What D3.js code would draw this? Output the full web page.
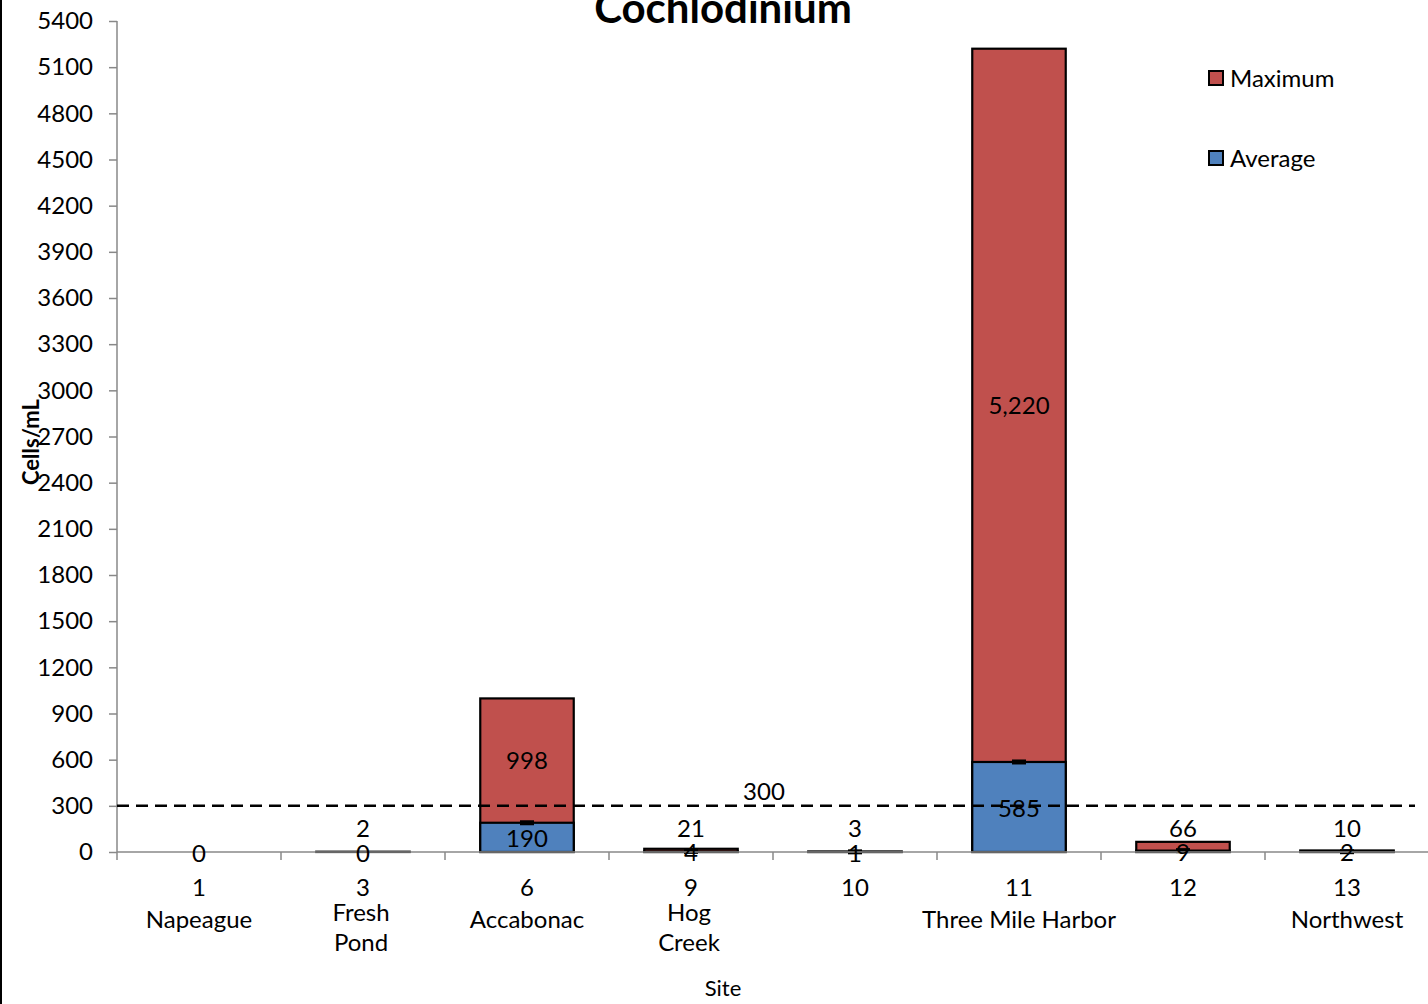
<!DOCTYPE html>
<html><head><meta charset="utf-8">
<script src="https://cdn.jsdelivr.net/npm/d3@7"></script>
<style>body{margin:0;background:#fff}svg{display:block}text{font-family:Lato,"Open Sans",sans-serif;fill:#000}</style>
</head><body>
<svg id="c" width="1428" height="1004"></svg>
<script>
const siteNumbers = ["1","3","6","9","10","11","12","13"];
const siteNames = [["Napeague"],["Fresh","Pond"],["Accabonac"],["Hog","Creek"],[],["Three Mile Harbor"],[],["Northwest"]];
const maxValues = [0,2,998,21,3,5220,66,10];
const avgValues = [0,0,190,4,1,585,9,2];
const threshold = 300;
const yTicks = d3.range(0, 5401, 300);
const seriesNames = ["Maximum","Average"];
const colors = ["#C0504D","#4F81BD"];

const svg = d3.select("#c");
const x = d3.scaleBand().domain(siteNumbers).range([117,1429]).paddingInner(0.43).paddingOuter(0.215);
const y = d3.scaleLinear().domain([0,5400]).range([852,21]);

// left border
svg.append("line").attr("x1",1).attr("x2",1).attr("y1",0).attr("y2",1004).attr("stroke","#000").attr("stroke-width",2);

// title
svg.append("text").attr("x",723).attr("y",23).attr("text-anchor","middle").attr("font-size",42).attr("font-weight","bold").text("Cochlodinium");

// y axis
const yAxis = svg.append("g").attr("transform","translate(117,0)")
  .call(d3.axisLeft(y).tickValues(yTicks).tickSize(8).tickPadding(16).tickFormat(d3.format("d")));
yAxis.selectAll("path,line").attr("stroke","#888").attr("stroke-width",1.5);
yAxis.select(".domain").attr("d","M0,21V852");
yAxis.selectAll("text").attr("font-size",24).attr("font-family","Lato").attr("fill","#000");

// x axis boundary ticks
siteNumbers.forEach((s,i)=>{
  const bx = x(s) - x.step()*x.paddingInner()/2;
  svg.append("line").attr("x1",bx).attr("x2",bx).attr("y1",y(0)).attr("y2",y(0)+8).attr("stroke","#888").attr("stroke-width",1.5);
});

// bars
const g = svg.append("g");
siteNumbers.forEach((s,i)=>{
  const mx = maxValues[i], av = avgValues[i];
  if (mx > 0) g.append("rect").attr("x",x(s)).attr("width",x.bandwidth()).attr("y",y(mx)).attr("height",y(0)-y(mx))
    .attr("fill",colors[0]).attr("stroke","#000").attr("stroke-width",2.2);
  if (av > 0) {
    g.append("rect").attr("x",x(s)).attr("width",x.bandwidth()).attr("y",y(av)).attr("height",y(0)-y(av))
      .attr("fill",colors[1]).attr("stroke","#000").attr("stroke-width",2.2);
    g.append("rect").attr("x",x(s)+x.bandwidth()/2-7).attr("width",14).attr("y",y(av)-2.5).attr("height",5).attr("fill","#000");
  }
});
// baseline in grey
svg.append("line").attr("x1",117).attr("x2",1428).attr("y1",y(0)).attr("y2",y(0)).attr("stroke","#888").attr("stroke-width",1.5);

// threshold line
svg.append("line").attr("x1",117).attr("x2",1415).attr("y1",y(threshold)).attr("y2",y(threshold))
  .attr("stroke","#000").attr("stroke-width",2.5).attr("stroke-dasharray","12,7");
svg.append("text").attr("x",764).attr("y",y(threshold)-6).attr("text-anchor","middle").attr("font-size",24).text(threshold);

// data labels
const fmt = d3.format(",");
siteNumbers.forEach((s,i)=>{
  const cx = x(s)+x.bandwidth()/2;
  const mx = maxValues[i], av = avgValues[i];
  if (mx > 0) {
    let ly;
    if (y(av)-y(mx) > 40) ly = (y(av)+y(mx))/2; else ly = Math.min(y(mx)-13, y(0)-24);
    svg.append("text").attr("x",cx).attr("y",ly).attr("dy","0.36em").attr("text-anchor","middle").attr("font-size",24).text(fmt(mx));
  }
  svg.append("text").attr("x",cx).attr("y",(y(av)+y(0))/2+1).attr("dy","0.36em").attr("text-anchor","middle").attr("font-size",24).text(fmt(av));
});

// x labels
siteNumbers.forEach((s,i)=>{
  const cx = x(s)+x.bandwidth()/2;
  svg.append("text").attr("x",cx).attr("y",887).attr("dy","0.36em").attr("text-anchor","middle").attr("font-size",24).text(s);
  const names = siteNames[i];
  if (names.length===1) {
    svg.append("text").attr("x",cx).attr("y",919).attr("dy","0.36em").attr("text-anchor","middle").attr("font-size",24).text(names[0]);
  } else {
    names.forEach((n,j)=>{
      svg.append("text").attr("x",cx-2).attr("y",912+j*30).attr("dy","0.36em").attr("text-anchor","middle").attr("font-size",24).text(n);
    });
  }
});

// axis titles
svg.append("text").attr("x",723).attr("y",988).attr("dy","0.36em").attr("text-anchor","middle").attr("font-size",22).text("Site");
svg.append("text").attr("transform","translate(31,442) rotate(-90)").attr("dy","0.36em").attr("text-anchor","middle").attr("font-size",22).attr("font-weight","bold").text("Cells/mL");

// legend
seriesNames.forEach((n,i)=>{
  const ly = 78 + i*80;
  svg.append("rect").attr("x",1209).attr("y",ly-7).attr("width",14).attr("height",14).attr("fill",colors[i]).attr("stroke","#000").attr("stroke-width",2);
  svg.append("text").attr("x",1230).attr("y",ly).attr("dy","0.36em").attr("font-size",24).text(n);
});
</script>
</body></html>
